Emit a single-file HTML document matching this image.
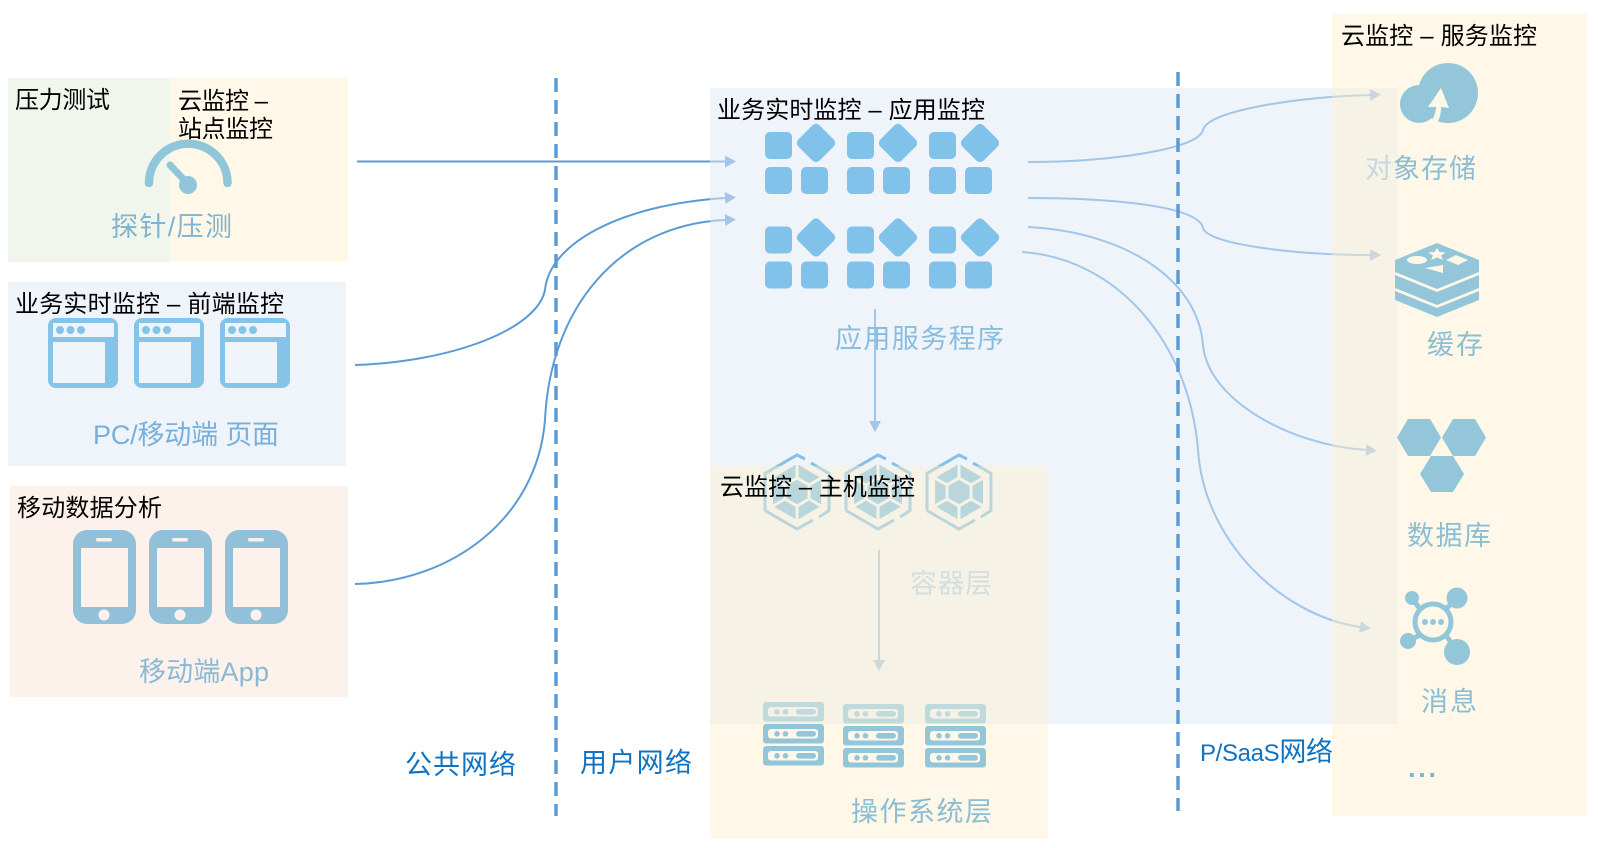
<!DOCTYPE html>
<html>
<head>
<meta charset="utf-8">
<style>
html,body{margin:0;padding:0;background:#fff;width:1598px;height:848px;overflow:hidden}
svg{display:block}
text{font-family:"Liberation Sans","Noto Sans CJK SC",sans-serif;font-size:24px;fill:#000}
.l{font-size:27px}
.net{font-size:27px;fill:#0f73c2}
.srv{fill:var(--b)}
.pill{fill:var(--p)}
</style>
</head>
<body>
<svg width="1598" height="848" viewBox="0 0 1598 848" xmlns="http://www.w3.org/2000/svg">
<defs>
<marker id="a1" markerUnits="userSpaceOnUse" markerWidth="12" markerHeight="14" refX="0" refY="7" orient="auto"><path d="M0 1 L11 7 L0 13Z" fill="#5b9bd5"/></marker>
<marker id="a2" markerUnits="userSpaceOnUse" markerWidth="12" markerHeight="14" refX="0" refY="7" orient="auto"><path d="M0 1 L11 7 L0 13Z" fill="#5b9bd5"/></marker>
<g id="win">
<rect x="0" y="0" width="70" height="70" rx="8" fill="#85c3e9"/>
<rect x="5" y="5" width="61" height="14" fill="#eff4fb"/>
<rect x="5" y="24" width="52" height="41" fill="#eff4fb"/>
<circle cx="12" cy="12" r="4" fill="#85c3e9"/><circle cx="22.500" cy="12" r="4" fill="#85c3e9"/><circle cx="33" cy="12" r="4" fill="#85c3e9"/>
</g>
<g id="phone">
<rect x="0" y="0" width="63" height="94" rx="14" fill="#93c0d9"/>
<rect x="8" y="18" width="47" height="59" fill="#fdf1ec"/>
<rect x="23" y="8" width="16" height="3.500" rx="1.700" fill="#fdf1ec"/>
<circle cx="31" cy="85" r="5.500" fill="#fdf1ec"/>
</g>
<g id="cl">
<rect x="0" y="0" width="27" height="27" rx="5" fill="#80c2e9"/>
<rect x="0" y="35" width="27" height="27" rx="5" fill="#80c2e9"/>
<rect x="36" y="35" width="27" height="27" rx="5" fill="#80c2e9"/>
<rect x="36" y="-4" width="30" height="30" rx="5" fill="#80c2e9" transform="rotate(45 51 11)"/>
</g>
<g id="hex">
<g fill="none" stroke="#80c2e9" stroke-width="3">
<polyline points="-32,18.500 -32,-18.500 0,-37 8,-33"/>
<polyline points="14,-29 32,-18.500 32,18.500 22,25"/>
<polyline points="16,28 0,37 -32,18.500"/>
</g>
<polygon points="0,-28 24,-14 24,14 0,28 -24,14 -24,-14" fill="#80c2e9"/>
<g stroke="#eff4fb" stroke-width="3" fill="none">
<polygon points="0,-14 12,-7 12,7 0,14 -12,7 -12,-7"/>
<path d="M0 -14V-30M12 -7L26 -15M12 7L26 15M0 14V30M-12 7L-26 15M-12 -7L-26 -15"/>
</g>
</g>
<g id="srv">
<rect class="srv" x="0" y="0" width="61" height="19.500" rx="3"/>
<rect class="pill" x="5" y="5" width="50" height="9.500" rx="3"/>
<circle class="srv" cx="14" cy="9.800" r="2.800"/><circle class="srv" cx="22.500" cy="9.800" r="2.800"/>
<rect class="srv" x="33" y="7" width="20" height="5.600" rx="2.800"/>
</g>
<g id="srvs">
<use href="#srv" style="--b:#c0d9dd;--p:#f5f2e5"/>
<use href="#srv" y="22" style="--b:#93c6d8;--p:#fff8e8"/>
<use href="#srv" y="44" style="--b:#93c6d8;--p:#fff8e8"/>
</g>
</defs>

<!-- left panels -->
<rect x="8" y="78" width="162" height="184" fill="#f0f6ec"/>
<rect x="170" y="78" width="178" height="184" fill="#fff8e8"/>
<rect x="8" y="282" width="338" height="184" fill="#eff4fb"/>
<rect x="10" y="486" width="338" height="211" fill="#fdf1ec"/>

<!-- connectors beneath translucent panels -->
<g fill="none" stroke="#5b9bd5">
<path d="M357 161.500H725" stroke-width="2" marker-end="url(#a1)"/>
<path d="M355 365 C450 362 537 330 545 290 C549 245 617 205 725 198" stroke-width="2" marker-end="url(#a1)"/>
<path d="M355 584 C450 582 537 520 545 420 C550 310 617 225 725 220" stroke-width="2" marker-end="url(#a1)"/>
<path d="M1028 162 C1106 162 1198 150 1203 130 C1208 110 1300 97 1370 95" stroke-width="2" marker-end="url(#a2)"/>
<path d="M1028 198 C1106 198 1198 205 1203 228 C1208 245 1300 255 1370 255" stroke-width="2" marker-end="url(#a2)"/>
<path d="M1028 227 C1126 232 1198 280 1203 345 C1208 400 1290 445 1366 450" stroke-width="2" marker-end="url(#a2)"/>
<path d="M1022 252 C1115 258 1189 340 1198 450 C1204 540 1280 615 1360 627" stroke-width="2" marker-end="url(#a2)"/>
<path d="M875 309V421" stroke-width="2" marker-end="url(#a2)"/>
<path d="M879 550V660" stroke-width="2" marker-end="url(#a2)"/>
</g>

<rect x="710" y="88" width="688" height="636" fill="#e1eaf8" fill-opacity=".537"/>

<use href="#hex" x="797" y="492"/>
<use href="#hex" x="878" y="492"/>
<use href="#hex" x="959" y="492"/>

<rect x="710" y="466" width="338" height="373" fill="#ffefca" fill-opacity=".44"/>
<rect x="1332" y="14" width="255" height="802" fill="#ffefca" fill-opacity=".44"/>

<!-- dashed dividers -->
<path d="M556 78V816" stroke="#5b9bd5" stroke-width="3.500" stroke-dasharray="14 8" fill="none"/>
<path d="M1178 72V811" stroke="#5b9bd5" stroke-width="3.500" stroke-dasharray="14 8" fill="none"/>

<!-- gauge -->
<path d="M149 183 A39.250 39.250 0 0 1 227.500 183" fill="none" stroke="#90c6da" stroke-width="8.500" stroke-linecap="round"/>
<path d="M170 165 L188 184" stroke="#90c6da" stroke-width="7" stroke-linecap="round"/>
<circle cx="188" cy="185" r="9" fill="#90c6da"/>

<!-- windows -->
<use href="#win" x="48" y="318"/>
<use href="#win" x="134" y="318"/>
<use href="#win" x="220" y="318"/>

<!-- phones -->
<use href="#phone" x="73" y="530"/>
<use href="#phone" x="149" y="530"/>
<use href="#phone" x="225" y="530"/>

<!-- app clusters -->
<use href="#cl" x="765" y="132"/>
<use href="#cl" x="847" y="132"/>
<use href="#cl" x="929" y="132"/>
<use href="#cl" x="765" y="226.500"/>
<use href="#cl" x="847" y="226.500"/>
<use href="#cl" x="929" y="226.500"/>

<!-- servers -->
<use href="#srvs" x="763" y="702"/>
<use href="#srvs" x="843" y="704"/>
<use href="#srvs" x="925" y="704"/>

<!-- cloud -->
<circle cx="1448" cy="93" r="30" fill="#92c6d8"/>
<circle cx="1419" cy="104" r="19" fill="#92c6d8"/>
<path d="M1441 88 L1449 108 L1441 107 C1441 113 1440 118 1437 123 L1431 122 C1434 117 1436 112 1436 107 L1428 107Z" fill="#fff8e8"/>

<!-- redis -->
<g fill="#92c6d8">
<path d="M1437 243 L1479 260 V272 L1437 289 L1395 272 V260Z"/>
<path d="M1395 275 L1437 292 L1479 275 V288 L1437 305 L1395 288Z"/>
<path d="M1395 291 L1437 308 L1479 291 V300 L1437 317 L1395 300Z"/>
</g>
<g fill="#fff8e8">
<polygon points="1437,248 1439.500,252 1446,252.500 1441,255.500 1443,260 1437,257.500 1431,260 1433,255.500 1428,252.500 1434.500,252"/>
<ellipse cx="1417" cy="260" rx="10" ry="4"/>
<polygon points="1456,255 1468,260 1458,265 1446,260"/>
<polygon points="1425,268 1443,265 1443,273"/>
</g>

<!-- db hexes -->
<g fill="#92c6d8">
<polygon points="1397,437.500 1408,419 1430,419 1441,437.500 1430,456 1408,456"/>
<polygon points="1442,437.500 1453,419 1475,419 1486,437.500 1475,456 1453,456"/>
<polygon points="1420,474 1431,456 1453,456 1464,474 1453,492 1431,492"/>
</g>

<!-- message -->
<g stroke="#92c6d8" stroke-width="5" fill="none">
<circle cx="1433" cy="622" r="18"/>
<path d="M1420 609L1412 598M1446 609L1457 598M1420 635L1408 641M1446 635L1457 652"/>
</g>
<g fill="#92c6d8">
<circle cx="1412" cy="598" r="7"/><circle cx="1457" cy="598" r="10.500"/>
<circle cx="1408" cy="641" r="8"/><circle cx="1457" cy="652" r="13"/>
<circle cx="1425" cy="622" r="3"/><circle cx="1433" cy="622" r="3"/><circle cx="1441" cy="622" r="3"/>
</g>

<!-- black labels -->
<text x="15" y="108" textLength="95">压力测试</text>
<text x="178" y="109" textLength="90">云监控 –</text>
<text x="178" y="137" textLength="95">站点监控</text>
<text x="15" y="312" textLength="269">业务实时监控 – 前端监控</text>
<text x="17" y="516" textLength="145">移动数据分析</text>
<text x="717" y="118" textLength="268">业务实时监控 – 应用监控</text>
<text x="720" y="495" textLength="195">云监控 – 主机监控</text>
<text x="1341" y="44" textLength="196">云监控 – 服务监控</text>

<!-- coloured labels -->
<text class="l" x="111" y="236" textLength="121" style="fill:#7fb3d0">探针/压测</text>
<text class="l" x="93" y="444" textLength="186" style="fill:#76b0dc">PC/移动端 页面</text>
<text class="l" x="139" y="681" textLength="130" style="fill:#8ab9d4">移动端App</text>
<text class="l" x="840" y="348" textLength="169" style="fill:#89bde0" transform="translate(-5 0)">应用服务程序</text>
<text class="l" x="910" y="593" textLength="82" style="fill:#d3dedd">容器层</text>
<text class="l" x="851" y="821" textLength="141" style="fill:#8bbdd3">操作系统层</text>
<text class="l" x="1365" y="178" style="fill:#c6d8df">对</text>
<text class="l" x="1393" y="178" textLength="83" style="fill:#8bbdd3">象存储</text>
<text class="l" x="1427" y="354" textLength="56" style="fill:#8bbdd3">缓存</text>
<text class="l" x="1407" y="545" textLength="84" style="fill:#8bbdd3">数据库</text>
<text class="l" x="1421" y="711" textLength="56" style="fill:#8bbdd3">消息</text>
<text class="l" x="1408" y="777" textLength="28" style="fill:#7fb3d0;font-weight:bold">...</text>

<text class="net" x="405" y="774" textLength="111">公共网络</text>
<text class="net" x="580" y="772" textLength="112">用户网络</text>
<text class="net" x="1200" y="761" textLength="133"><tspan style="font-size:24px">P/SaaS</tspan>网络</text>
</svg>
</body>
</html>
